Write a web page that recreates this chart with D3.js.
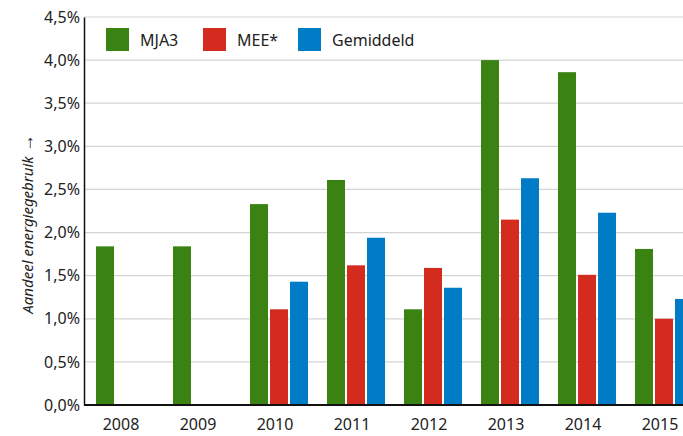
<!DOCTYPE html>
<html><head><meta charset="utf-8">
<script src="https://cdn.jsdelivr.net/npm/d3@7/dist/d3.min.js"></script>
<style>
html,body{margin:0;padding:0;background:#fff;overflow:hidden}
text{font-family:"Noto Sans",sans-serif;fill:#222}
</style></head><body>
<svg id="chart" width="683" height="436"></svg>
<script>
const years = ["2008","2009","2010","2011","2012","2013","2014","2015"];
const seriesNames = ["MJA3","MEE*","Gemiddeld"];
const seriesColors = ["#3a8211","#d42b1f","#007bc5"];
const mja3 = [1.84, 1.84, 2.33, 2.61, 1.11, 4.00, 3.86, 1.81];
const mee = [null, null, 1.11, 1.62, 1.59, 2.15, 1.51, 1.00];
const gemiddeld = [null, null, 1.43, 1.94, 1.36, 2.63, 2.23, 1.23];
const yTicks = [0,0.5,1,1.5,2,2.5,3,3.5,4,4.5];
const yTitle = "Aandeel energiegebruik";
const yArrow = "\u2192";

const seriesValues = [mja3, mee, gemiddeld];
const rows = [];
years.forEach((yr,i)=>seriesNames.forEach((s,j)=>{
  if(seriesValues[j][i]!=null) rows.push({year:yr, series:s, value:seriesValues[j][i], color:seriesColors[j]});
}));

const svg = d3.select("#chart");
const mLeft = 84, mBottom = 405, mTop = 17, mRight = 683;

const y = d3.scaleLinear().domain([0,4.5]).range([mBottom, mTop]);
const x = d3.scaleBand().domain(years).range([96, 96 + 7*77 + 58]).paddingInner(19/77).paddingOuter(0);
const xs = d3.scaleBand().domain(seriesNames).range([0, x.bandwidth()]).paddingInner(0.1);

const nl = d3.formatLocale({decimal:",", thousands:".", grouping:[3], currency:["€",""]});
const fmt = v => nl.format(".1f")(v) + "%";

// gridlines
svg.append("g").selectAll("line").data(yTicks.filter(d=>d>0)).join("line")
  .attr("x1", mLeft).attr("x2", mRight)
  .attr("y1", d=>y(d)).attr("y2", d=>y(d))
  .attr("stroke","#d4d4d4").attr("stroke-width",1.2);

// bars
svg.append("g").selectAll("rect").data(rows).join("rect")
  .attr("x", d=>x(d.year)+xs(d.series))
  .attr("width", xs.bandwidth())
  .attr("y", d=>y(d.value))
  .attr("height", d=>y(0)-y(d.value))
  .attr("fill", d=>d.color);

// y axis
const yAxis = svg.append("g").attr("transform",`translate(${mLeft},0)`)
  .call(d3.axisLeft(y).tickValues(yTicks).tickFormat(fmt).tickSize(0).tickPadding(4));
yAxis.select(".domain").attr("stroke","#111").attr("stroke-width",1.5);
yAxis.selectAll("text").style("font-family","'Noto Sans',sans-serif").style("font-size","16px").attr("fill","#222");

// x axis
const xAxis = svg.append("g").attr("transform",`translate(-4,${mBottom})`)
  .call(d3.axisBottom(x).tickSize(0).tickPadding(14));
xAxis.select(".domain").remove();
xAxis.selectAll("text").style("font-family","'Noto Sans',sans-serif").style("font-size","16px").attr("fill","#222");
svg.append("line").attr("x1",mLeft).attr("x2",mRight).attr("y1",mBottom).attr("y2",mBottom)
  .attr("stroke","#111").attr("stroke-width",1.8);

// y title
const yt = svg.append("text")
  .attr("transform",`translate(33,224) rotate(-90)`)
  .attr("text-anchor","middle")
  .style("font-size","15px").style("font-style","italic");
yt.append("tspan").text(yTitle + " ");
yt.append("tspan").style("font-style","normal").style("font-size","18px").text(yArrow);

// legend
const legendX = [106, 203, 298];
const lg = svg.append("g").selectAll("g").data(seriesNames).join("g")
  .attr("transform",(d,i)=>`translate(${legendX[i]},28)`);
lg.append("rect").attr("width",23).attr("height",23).attr("fill",(d,i)=>seriesColors[i]);
lg.append("text").attr("x",34).attr("y",18).style("font-size","16px").text(d=>d);
</script>
</body></html>
